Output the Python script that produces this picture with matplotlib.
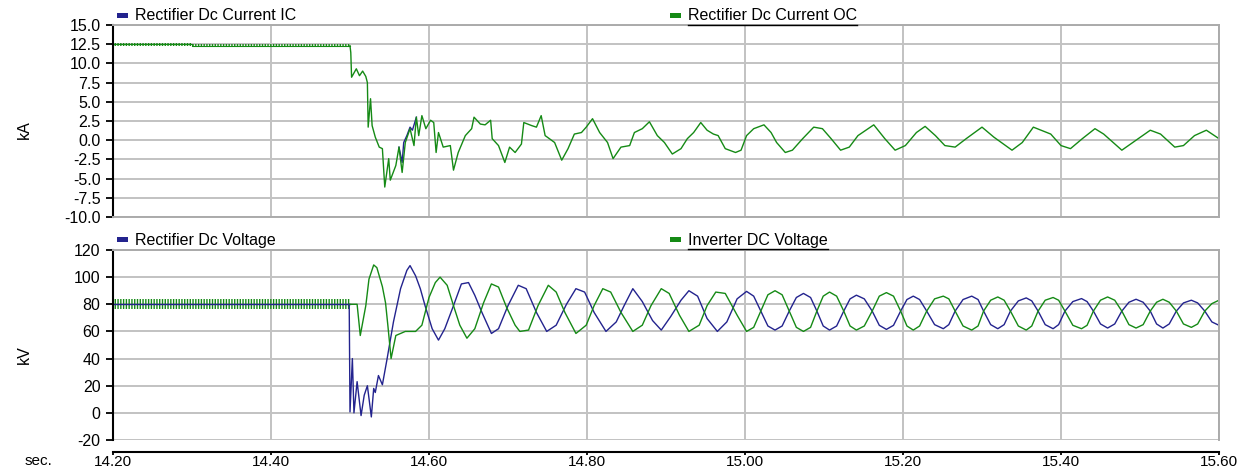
import matplotlib
matplotlib.use("Agg")
import matplotlib.pyplot as plt
from matplotlib.patches import Rectangle
from matplotlib.lines import Line2D

# -----------------------------
# Data
# -----------------------------
x_ticks = [14.20, 14.40, 14.60, 14.80, 15.00, 15.20, 15.40, 15.60]
ka_ticks = [-10.0, -7.5, -5.0, -2.5, 0.0, 2.5, 5.0, 7.5, 10.0, 12.5, 15.0]
kv_ticks = [-20, 0, 20, 40, 60, 80, 100, 120]

# pre-fault ripple envelope (steady state band)
pre_t = [14.20, 14.30, 14.30, 14.50]
pre_ka_lo = [12.3, 12.3, 12.1, 12.1]
pre_ka_hi = [12.7, 12.7, 12.5, 12.5]
pre_kv_lo = [76.5, 76.5, 76.5, 76.5]
pre_kv_hi = [84.0, 84.0, 84.0, 84.0]

# Rectifier Dc Current OC (kA) after the fault
oc_t = [14.500, 14.501, 14.502, 14.508, 14.512, 14.516, 14.520, 14.522, 14.523,
        14.526, 14.528, 14.532, 14.537, 14.541, 14.544, 14.549, 14.551, 14.558,
        14.562, 14.566, 14.570, 14.576, 14.581, 14.584, 14.587, 14.591, 14.596,
        14.602, 14.606, 14.609, 14.612, 14.618, 14.627, 14.631, 14.637, 14.646,
        14.654, 14.657, 14.665, 14.671, 14.678, 14.680, 14.688, 14.696, 14.702,
        14.709, 14.717, 14.720, 14.730, 14.736, 14.742, 14.747, 14.759, 14.768,
        14.776, 14.784, 14.793, 14.799, 14.807, 14.816, 14.826, 14.833, 14.843,
        14.854, 14.860, 14.870, 14.879, 14.889, 14.898, 14.908, 14.919, 14.927,
        14.935, 14.944, 14.952, 14.960, 14.966, 14.975, 14.988, 14.995, 15.002,
        15.011, 15.024, 15.033, 15.040, 15.051, 15.060, 15.073, 15.087, 15.098,
        15.109, 15.121, 15.132, 15.143, 15.163, 15.177, 15.190, 15.203, 15.217,
        15.228, 15.241, 15.253, 15.266, 15.280, 15.300, 15.315, 15.338, 15.351,
        15.365, 15.387, 15.400, 15.412, 15.427, 15.443, 15.454, 15.477, 15.495,
        15.513, 15.526, 15.544, 15.555, 15.569, 15.584, 15.600]
oc_ka = [12.3, 11.4, 8.2, 9.3, 8.4, 9.0, 8.3, 7.5, 1.7,
         5.4, 1.9, 0.4, -0.9, -1.1, -6.1, -2.4, -5.2, -3.3,
         -0.9, -4.2, -0.3, 1.5, -0.7, 3.0, 0.6, 3.2, 1.5,
         2.6, 2.3, -1.6, 1.0, -0.9, -0.7, -3.9, -1.6, 0.6,
         1.5, 3.0, 2.1, 2.0, 2.6, 0.2, -0.7, -2.9, -0.9,
         -1.6, -0.5, 2.3, 1.9, 1.7, 3.2, 0.6, -0.3, -2.6,
         -1.1, 0.8, 1.0, 1.7, 2.8, 1.0, -0.3, -2.4, -0.9,
         -0.7, 1.0, 1.5, 2.4, 0.6, -0.3, -1.8, -1.1, 0.2,
         1.0, 2.3, 1.3, 0.8, 0.6, -1.1, -1.6, -1.3, 0.6,
         1.5, 2.0, 1.0, -0.3, -1.6, -1.3, 0.2, 1.7, 1.5,
         0.2, -1.3, -0.9, 0.6, 2.0, 0.2, -1.3, -0.7, 1.0,
         1.8, 0.6, -0.7, -0.9, 0.2, 1.7, 0.4, -1.3, -0.3,
         1.7, 0.8, -0.7, -1.1, 0.2, 1.5, 0.8, -1.3, 0.0,
         1.3, 0.8, -0.9, -0.7, 0.6, 1.3, 0.2]

# Rectifier Dc Current IC only shows where it leaves the OC trace
ic_t = [14.562, 14.566, 14.568, 14.572, 14.576, 14.579, 14.584]
ic_ka = [-0.9, -2.9, -0.3, 0.6, 1.7, 1.3, 3.0]

# Rectifier Dc Voltage (kV), fault and first swings
rv_t = [14.499, 14.500, 14.503, 14.505, 14.509, 14.514, 14.518, 14.522, 14.527,
        14.530, 14.532, 14.536, 14.541, 14.547, 14.555, 14.564, 14.572, 14.576,
        14.583, 14.589, 14.595, 14.604, 14.612, 14.620, 14.631, 14.641, 14.650,
        14.658, 14.667, 14.679, 14.688, 14.700, 14.713, 14.723, 14.736, 14.749,
        14.761, 14.774, 14.786, 14.797, 14.809, 14.824, 14.837, 14.847, 14.858,
        14.870, 14.883, 14.894, 14.906, 14.919, 14.929, 14.940, 14.952, 14.965,
        14.977, 14.990]
rv_kv = [80.0, 0.7, 40.0, 0.0, 23.0, -2.0, 13.0, 20.0, -3.0,
         18.0, 15.0, 27.5, 20.7, 40.0, 67.0, 91.5, 105.0, 108.5,
         101.0, 91.5, 79.0, 62.0, 53.6, 62.0, 79.0, 95.0, 96.0,
         86.6, 74.0, 58.5, 62.0, 79.0, 94.0, 91.5, 74.0, 60.0,
         64.6, 80.0, 91.5, 89.0, 74.0, 60.0, 67.0, 79.0, 91.5,
         82.0, 68.0, 61.0, 71.0, 83.0, 90.0, 86.0, 69.5, 60.0,
         67.0, 84.0]

# Inverter DC Voltage (kV), fault and first swings
iv_t = [14.500, 14.509, 14.513, 14.520, 14.524, 14.530, 14.534, 14.541, 14.545,
        14.548, 14.552, 14.558, 14.570, 14.583, 14.591, 14.600, 14.608, 14.614,
        14.623, 14.631, 14.639, 14.648, 14.658, 14.669, 14.679, 14.688, 14.698,
        14.709, 14.715, 14.726, 14.738, 14.751, 14.761, 14.772, 14.786, 14.799,
        14.809, 14.820, 14.830, 14.843, 14.858, 14.870, 14.881, 14.894, 14.904,
        14.917, 14.929, 14.942, 14.952, 14.963, 14.975, 14.990]
iv_kv = [80.0, 80.0, 57.0, 79.0, 98.5, 109.0, 107.0, 93.0, 81.0,
         64.0, 40.0, 57.0, 60.0, 60.0, 64.6, 85.0, 96.0, 100.0,
         94.0, 79.0, 64.6, 55.0, 62.0, 81.0, 95.0, 92.7, 78.0,
         64.6, 60.0, 61.0, 79.0, 94.0, 89.0, 74.0, 58.5, 64.6,
         79.0, 91.5, 89.0, 74.0, 60.0, 64.6, 79.0, 91.5, 88.0,
         72.0, 60.0, 64.6, 79.0, 89.0, 88.0, 72.0]

# settled oscillation, both voltages sampled at the same instants
late_t = [15.002, 15.011, 15.020, 15.029, 15.038, 15.047, 15.056, 15.065, 15.074,
          15.083, 15.091, 15.099, 15.107, 15.116, 15.125, 15.133, 15.141, 15.151,
          15.161, 15.170, 15.179, 15.188, 15.197, 15.205, 15.213, 15.221, 15.230,
          15.240, 15.251, 15.258, 15.266, 15.276, 15.287, 15.295, 15.302, 15.311,
          15.320, 15.328, 15.336, 15.346, 15.356, 15.363, 15.371, 15.380, 15.390,
          15.397, 15.405, 15.415, 15.426, 15.433, 15.441, 15.450, 15.459, 15.468,
          15.477, 15.486, 15.495, 15.504, 15.513, 15.521, 15.529, 15.537, 15.546,
          15.555, 15.565, 15.573, 15.582, 15.591, 15.600]
late_rv_kv = [89.5, 86.0, 75.0, 64.0, 61.0, 64.0, 75.0, 85.0, 88.0,
              85.0, 75.0, 64.0, 61.0, 64.0, 75.0, 84.0, 86.7, 84.0,
              75.0, 64.5, 61.5, 64.5, 75.0, 83.5, 86.0, 83.5, 75.0,
              65.0, 62.0, 65.0, 75.0, 83.5, 86.0, 83.5, 75.0, 65.0,
              62.0, 65.0, 75.0, 82.5, 84.7, 82.5, 75.0, 65.0, 62.0,
              65.0, 75.0, 82.0, 84.2, 82.0, 75.0, 65.5, 62.5, 65.5,
              75.0, 81.5, 83.7, 81.5, 75.0, 65.5, 62.5, 65.5, 75.0,
              81.0, 83.0, 81.0, 75.0, 67.0, 64.5]
late_iv_kv = [60.0, 63.0, 75.0, 87.0, 90.0, 87.0, 75.0, 63.0, 60.0,
              63.0, 75.0, 86.0, 89.0, 86.0, 75.0, 64.0, 61.0, 64.0,
              75.0, 86.0, 88.6, 86.0, 75.0, 64.0, 61.0, 64.0, 75.0,
              84.0, 86.0, 84.0, 75.0, 64.0, 61.0, 64.0, 75.0, 83.0,
              85.4, 83.0, 75.0, 64.0, 61.0, 64.0, 75.0, 83.0, 85.0,
              83.0, 75.0, 64.5, 62.0, 64.5, 75.0, 83.0, 85.4, 83.0,
              75.0, 65.0, 62.5, 65.0, 75.0, 81.5, 83.7, 81.5, 75.0,
              65.5, 63.0, 65.5, 75.0, 80.5, 83.0]

# -----------------------------
# Figure setup
# -----------------------------
plt.rcParams["font.family"] = ["Liberation Sans", "DejaVu Sans"]
plt.rcParams["axes.unicode_minus"] = False
plt.rcParams["hatch.linewidth"] = 1.0

BLUE = "#23238e"
GREEN = "#158a15"
GRID = "#c2c2c2"
FRAME = "#ababab"
FS = 11.5

W, H = 1256, 469
fig = plt.figure(figsize=(W / 100, H / 100), dpi=100)
ax1 = fig.add_axes([113 / W, 1 - 217 / H, (1219 - 113) / W, (217 - 25) / H])
ax2 = fig.add_axes([113 / W, 1 - 440 / H, (1219 - 113) / W, (440 - 250) / H])

for ax, ticks, labels in [(ax1, ka_ticks, [f"{v:.1f}" for v in ka_ticks]),
                          (ax2, kv_ticks, [str(v) for v in kv_ticks])]:
    ax.set_xlim(14.20, 15.60)
    ax.set_ylim(ticks[0], ticks[-1])
    ax.set_xticks(x_ticks)
    ax.set_yticks(ticks)
    ax.set_yticklabels(labels)
    ax.grid(True, color=GRID, linewidth=1.4)
    ax.set_axisbelow(True)
    for side in ["top", "right", "bottom"]:
        ax.spines[side].set_color(FRAME)
        ax.spines[side].set_linewidth(1.4)
    ax.spines["left"].set_color("black")
    ax.spines["left"].set_linewidth(1.5)
    ax.tick_params(axis="y", direction="out", length=5, width=1.3,
                   labelsize=FS, pad=4)

ax1.tick_params(axis="x", length=0, labelbottom=False)

# separate black time axis a little below the lower panel (points)
ax2.spines["bottom"].set_position(("outward", 8.6))
ax2.spines["bottom"].set_color("black")
ax2.spines["bottom"].set_linewidth(1.5)
ax2.set_xticklabels([f"{v:.2f}" for v in x_ticks])
ax2.tick_params(axis="x", direction="out", length=2, width=1.3,
                labelsize=11, pad=0.5)

# -----------------------------
# Top panel: dc current
# -----------------------------
ax1.fill_between(pre_t, pre_ka_lo, pre_ka_hi, facecolor="none",
                 edgecolor=GREEN, hatch="||||||", linewidth=0)
ax1.plot(pre_t, [(a + b) / 2 for a, b in zip(pre_ka_lo, pre_ka_hi)],
         color=GREEN, linewidth=0.8)
ax1.plot(ic_t, ic_ka, color=BLUE, linewidth=1.0)
ax1.plot(oc_t, oc_ka, color=GREEN, linewidth=1.0)

# -----------------------------
# Bottom panel: dc voltage
# -----------------------------
ax2.plot(pre_t, [(a + b) / 2 for a, b in zip(pre_kv_lo, pre_kv_hi)],
         color=BLUE, linewidth=1.0)
ax2.fill_between(pre_t, pre_kv_lo, pre_kv_hi, facecolor="none",
                 edgecolor=GREEN, hatch="||||||", linewidth=0)
ax2.plot(rv_t + late_t, rv_kv + late_rv_kv, color=BLUE, linewidth=1.0)
ax2.plot(iv_t + late_t, iv_kv + late_iv_kv, color=GREEN, linewidth=1.0)

# -----------------------------
# Labels and PSCAD-style legends
# -----------------------------
fig.text(24 / W, 1 - 130 / H, "kA", rotation=90, ha="center", va="center", fontsize=FS)
fig.text(24 / W, 1 - 355 / H, "kV", rotation=90, ha="center", va="center", fontsize=FS)
fig.text(52 / W, 1 - 461 / H, "sec.", ha="right", va="center", fontsize=11)

legend_items = [
    (117, 16, BLUE, "Rectifier Dc Current IC", False),
    (670, 16, GREEN, "Rectifier Dc Current OC", True),
    (117, 240, BLUE, "Rectifier Dc Voltage", False),
    (670, 240, GREEN, "Inverter DC Voltage", True),
]
fig.canvas.draw()
renderer = fig.canvas.get_renderer()
for x0, yc, col, label, underline in legend_items:
    fig.add_artist(Rectangle((x0 / W, 1 - (yc + 2.5) / H), 11 / W, 5 / H,
                             transform=fig.transFigure, color=col, linewidth=0))
    t = fig.text((x0 + 18) / W, 1 - yc / H, label, ha="left", va="center",
                 fontsize=FS)
    if underline:
        bb = t.get_window_extent(renderer)
        yl = (bb.y0 - 1.5) / H
        fig.add_artist(Line2D([bb.x0 / W, bb.x1 / W], [yl, yl],
                              transform=fig.transFigure, color="black",
                              linewidth=1.0))

fig.savefig("out.png", dpi=100)
